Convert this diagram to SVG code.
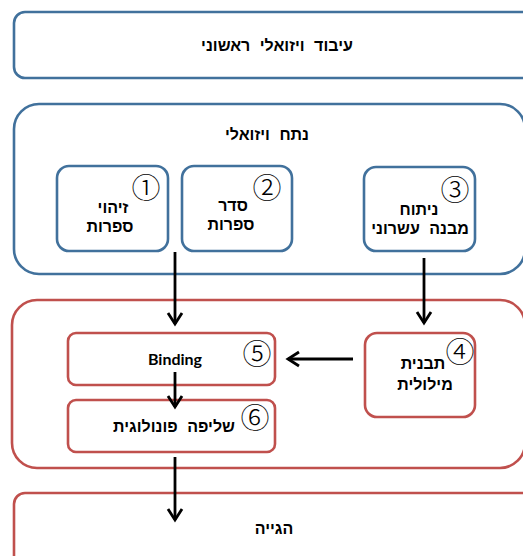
<svg xmlns="http://www.w3.org/2000/svg" width="523" height="556" viewBox="0 0 523 556">
<style>
.b{fill:#fff;stroke:#41719C;stroke-width:2.6}
.r{fill:#fff;stroke:#C0504D;stroke-width:2.6}
.t{font-family:"Liberation Sans","DejaVu Sans",sans-serif;font-weight:bold;font-size:16px;word-spacing:5px;fill:#000;text-anchor:middle;direction:rtl}
.e{font-family:Lato,"Liberation Sans",sans-serif;font-weight:bold;font-size:16px;fill:#000;text-anchor:middle}
.n{font-family:"Noto Sans CJK JP","DejaVu Sans",sans-serif;font-size:29px;font-weight:300;fill:#000;text-anchor:middle}
.c{stroke:#000;stroke-width:2.8;fill:none}
</style>
<defs>
<marker id="ah" markerUnits="userSpaceOnUse" markerWidth="20" markerHeight="20" viewBox="-14 -10 16 20" refX="0" refY="0" orient="auto">
<path d="M-11,-7 L0,0 L-11,7" fill="none" stroke="#000" stroke-width="2.8"/>
</marker>
</defs>
<g id="n-primary">
<rect class="b" x="14" y="12" width="530" height="66" rx="11"/>
<text class="t" x="277" y="51">עיבוד ויזואלי ראשוני</text>
</g>
<g id="n-visual">
<rect class="b" x="14" y="104" width="511" height="170" rx="25"/>
<text class="t" x="267" y="140">נתח ויזואלי</text>
</g>
<g id="n1">
<rect class="b" x="57" y="166" width="111" height="85" rx="12"/>
<text class="t" x="113" y="213">זיהוי</text>
<text class="t" x="110" y="232">ספרות</text>
<text class="n" x="146" y="199">①</text>
</g>
<g id="n2">
<rect class="b" x="182" y="166" width="110" height="85" rx="12"/>
<text class="t" x="233" y="211">סדר</text>
<text class="t" x="231" y="230">ספרות</text>
<text class="n" x="267" y="199">②</text>
</g>
<g id="n3">
<rect class="b" x="364" y="167" width="111" height="84" rx="12"/>
<text class="t" x="419" y="215">ניתוח</text>
<text class="t" x="420" y="234">מבנה עשרוני</text>
<text class="n" x="455" y="201">③</text>
</g>
<g id="n-phon">
<rect class="r" x="12" y="300" width="513" height="168" rx="25"/>
</g>
<g id="n5">
<rect class="r" x="68" y="333" width="207" height="52" rx="8"/>
<text class="e" x="175" y="365">Binding</text>
<text class="n" x="257" y="365">⑤</text>
</g>
<g id="n6">
<rect class="r" x="68" y="400" width="207" height="52" rx="8"/>
<text class="t" x="174" y="432">שליפה פונולוגית</text>
<text class="n" x="255" y="429">⑥</text>
</g>
<g id="n4">
<rect class="r" x="365" y="333" width="110" height="84" rx="12"/>
<text class="t" x="423" y="369">תבנית</text>
<text class="t" x="425" y="390">מילולית</text>
<text class="n" x="460" y="363">④</text>
</g>
<g id="n-say">
<rect class="r" x="14" y="493" width="530" height="80" rx="11"/>
<text class="t" x="274" y="534">הגייה</text>
</g>
<g id="connectors">
<line class="c" x1="175" y1="252" x2="175" y2="324" marker-end="url(#ah)"/>
<line class="c" x1="424" y1="258" x2="424" y2="323" marker-end="url(#ah)"/>
<line class="c" x1="353" y1="359" x2="288" y2="359" marker-end="url(#ah)"/>
<line class="c" x1="175" y1="372" x2="175" y2="407" marker-end="url(#ah)"/>
<line class="c" x1="175" y1="457" x2="175" y2="520" marker-end="url(#ah)"/>
</g>
</svg>
